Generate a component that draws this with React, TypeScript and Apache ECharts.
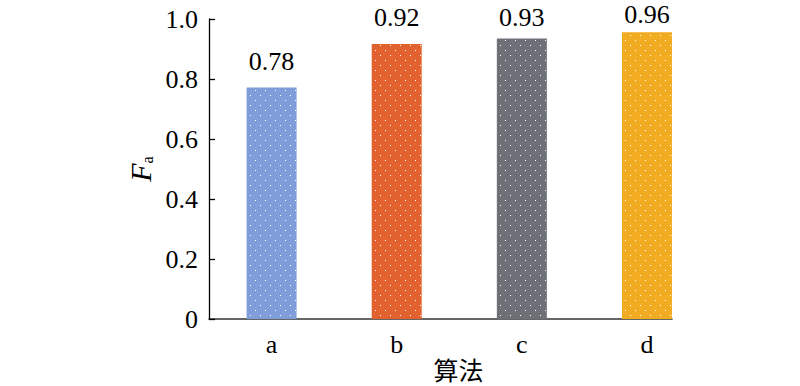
import React, { useEffect, useRef } from "react";
import * as echarts from "echarts";

const categories = ["a", "b", "c", "d"];
const categoryPositions = [1, 2, 3, 4];
const values = [0.772, 0.917, 0.935, 0.956];
const valueLabels = ["0.78", "0.92", "0.93", "0.96"];
const barColors = ["#7f9dd8", "#e2622f", "#6e7078", "#f2ac22"];
const labelDistances = [13, 13, 8, 5];
const yTicks = [0, 0.2, 0.4, 0.6, 0.8, 1.0];

const SERIF = "Liberation Serif";
const CJK = "Liberation Serif, Noto Sans CJK SC";

export default function App() {
  const ref = useRef<HTMLDivElement>(null);
  useEffect(() => {
    if (!ref.current) return;
    const chart = echarts.init(ref.current, undefined, { renderer: "svg" });
    chart.setOption({
      animation: false,
      backgroundColor: "#ffffff",
      grid: {
        left: 209,
        top: 19,
        right: 128,
        bottom: 67,
        containLabel: false,
        outerBoundsMode: "none",
      },
      xAxis: {
        type: "value",
        min: 0.5,
        max: 4.2,
        splitLine: { show: false },
        axisLine: { show: true, onZero: false, lineStyle: { color: "#333333", width: 1.6 } },
        axisTick: { show: false },
        axisLabel: {
          customValues: categoryPositions,
          formatter: (v: number) => categories[categoryPositions.indexOf(v)] ?? "",
          fontFamily: SERIF,
          fontSize: 26,
          color: "#000",
          margin: 12,
        },
        name: "算法",
        nameLocation: "middle",
        nameGap: 39,
        nameMoveOverlap: false,
        nameTextStyle: {
          fontFamily: CJK,
          fontSize: 25,
          lineHeight: 26,
          color: "#000",
          padding: [0, 0, 0, 36],
        },
      },
      yAxis: {
        type: "value",
        min: 0,
        max: 1,
        interval: 0.2,
        splitLine: { show: false },
        axisLine: { show: true, lineStyle: { color: "#000", width: 1.3 } },
        axisTick: { show: true, inside: true, length: 6, lineStyle: { color: "#000", width: 1.3 } },
        axisLabel: {
          customValues: yTicks,
          formatter: (v: number) => (v === 0 ? "0" : v.toFixed(1)),
          fontFamily: SERIF,
          fontSize: 26,
          color: "#000",
          margin: 11,
        },
        name: "{f|F}{s|a}",
        nameLocation: "middle",
        nameGap: 54,
        nameMoveOverlap: false,
        nameTextStyle: {
          rich: {
            f: { fontFamily: SERIF, fontStyle: "italic", fontSize: 30, color: "#000", lineHeight: 30 },
            s: { fontFamily: SERIF, fontSize: 16, color: "#000", verticalAlign: "bottom", lineHeight: 14 },
          },
        },
      },
      series: [
        {
          type: "bar",
          barWidth: 50,
          data: values.map((v, i) => ({
            value: [categoryPositions[i], v],
            itemStyle: {
              color: barColors[i],
              decal: {
                symbol: "rect",
                symbolSize: 1,
                color: "#ffffff",
                dashArrayX: [[1, 9], [0, 5, 1, 4]],
                dashArrayY: [1, 4],
              },
            },
            label: { distance: labelDistances[i] },
          })),
          label: {
            show: true,
            position: "top",
            formatter: (p: any) => valueLabels[p.dataIndex],
            fontFamily: SERIF,
            fontSize: 26,
            color: "#000",
          },
        },
      ],
    });
    return () => chart.dispose();
  }, []);
  return (
    <div
      ref={ref}
      style={{ position: "absolute", left: 0, top: 0, width: 800, height: 386, background: "#fff" }}
    />
  );
}
